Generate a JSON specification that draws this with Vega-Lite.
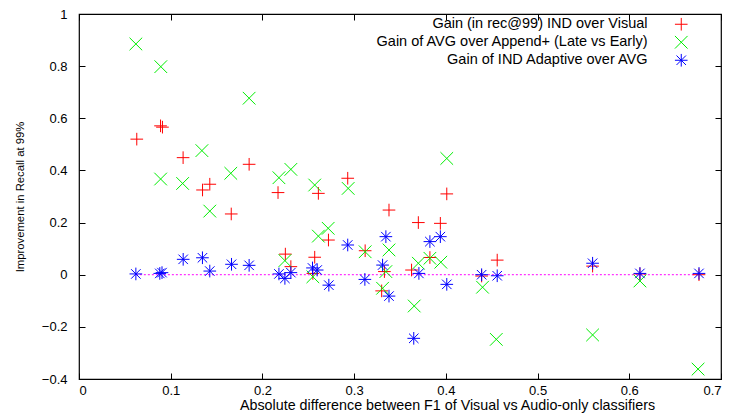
{
  "$schema": "https://vega.github.io/schema/vega-lite/v6.json",
  "width": 642,
  "height": 365,
  "autosize": {"type": "none"},
  "padding": {"left": 79, "top": 14, "right": 12, "bottom": 34},
  "background": "white",
  "config": {
    "view": {"stroke": "#000", "strokeWidth": 1.2},
    "font": "Liberation Sans",
    "axis": {"grid": false, "domain": false, "tickColor": "#000", "tickSize": -6, "labelFontSize": 13, "labelColor": "#000", "titleColor": "#000", "labelFont": "Liberation Sans", "titleFont": "Liberation Sans", "titleFontWeight": "normal"}
  },
  "datasets": {
    "pts": [
      {"x": 0.063, "y": 0.52, "s": "Gain (in rec@99) IND over Visual"},
      {"x": 0.0889, "y": 0.571, "s": "Gain (in rec@99) IND over Visual"},
      {"x": 0.091, "y": 0.566, "s": "Gain (in rec@99) IND over Visual"},
      {"x": 0.1135, "y": 0.449, "s": "Gain (in rec@99) IND over Visual"},
      {"x": 0.1347, "y": 0.325, "s": "Gain (in rec@99) IND over Visual"},
      {"x": 0.1426, "y": 0.347, "s": "Gain (in rec@99) IND over Visual"},
      {"x": 0.166, "y": 0.233, "s": "Gain (in rec@99) IND over Visual"},
      {"x": 0.1855, "y": 0.4235, "s": "Gain (in rec@99) IND over Visual"},
      {"x": 0.217, "y": 0.315, "s": "Gain (in rec@99) IND over Visual"},
      {"x": 0.225, "y": 0.079, "s": "Gain (in rec@99) IND over Visual"},
      {"x": 0.231, "y": 0.031, "s": "Gain (in rec@99) IND over Visual"},
      {"x": 0.255, "y": 0.005, "s": "Gain (in rec@99) IND over Visual"},
      {"x": 0.257, "y": 0.067, "s": "Gain (in rec@99) IND over Visual"},
      {"x": 0.261, "y": 0.312, "s": "Gain (in rec@99) IND over Visual"},
      {"x": 0.272, "y": 0.133, "s": "Gain (in rec@99) IND over Visual"},
      {"x": 0.293, "y": 0.37, "s": "Gain (in rec@99) IND over Visual"},
      {"x": 0.312, "y": 0.092, "s": "Gain (in rec@99) IND over Visual"},
      {"x": 0.33, "y": -0.062, "s": "Gain (in rec@99) IND over Visual"},
      {"x": 0.333, "y": 0.012, "s": "Gain (in rec@99) IND over Visual"},
      {"x": 0.338, "y": 0.248, "s": "Gain (in rec@99) IND over Visual"},
      {"x": 0.3626, "y": 0.018, "s": "Gain (in rec@99) IND over Visual"},
      {"x": 0.37, "y": 0.2, "s": "Gain (in rec@99) IND over Visual"},
      {"x": 0.3826, "y": 0.066, "s": "Gain (in rec@99) IND over Visual"},
      {"x": 0.394, "y": 0.197, "s": "Gain (in rec@99) IND over Visual"},
      {"x": 0.401, "y": 0.31, "s": "Gain (in rec@99) IND over Visual"},
      {"x": 0.439, "y": -0.005, "s": "Gain (in rec@99) IND over Visual"},
      {"x": 0.456, "y": 0.056, "s": "Gain (in rec@99) IND over Visual"},
      {"x": 0.56, "y": 0.033, "s": "Gain (in rec@99) IND over Visual"},
      {"x": 0.6116, "y": 0.003, "s": "Gain (in rec@99) IND over Visual"},
      {"x": 0.676, "y": 0.0, "s": "Gain (in rec@99) IND over Visual"},

      {"x": 0.062, "y": 0.885, "s": "Gain of AVG over Append+ (Late vs Early)"},
      {"x": 0.0892, "y": 0.798, "s": "Gain of AVG over Append+ (Late vs Early)"},
      {"x": 0.089, "y": 0.367, "s": "Gain of AVG over Append+ (Late vs Early)"},
      {"x": 0.113, "y": 0.35, "s": "Gain of AVG over Append+ (Late vs Early)"},
      {"x": 0.134, "y": 0.476, "s": "Gain of AVG over Append+ (Late vs Early)"},
      {"x": 0.1426, "y": 0.244, "s": "Gain of AVG over Append+ (Late vs Early)"},
      {"x": 0.1655, "y": 0.389, "s": "Gain of AVG over Append+ (Late vs Early)"},
      {"x": 0.1855, "y": 0.677, "s": "Gain of AVG over Append+ (Late vs Early)"},
      {"x": 0.218, "y": 0.372, "s": "Gain of AVG over Append+ (Late vs Early)"},
      {"x": 0.2245, "y": 0.054, "s": "Gain of AVG over Append+ (Late vs Early)"},
      {"x": 0.231, "y": 0.404, "s": "Gain of AVG over Append+ (Late vs Early)"},
      {"x": 0.255, "y": -0.008, "s": "Gain of AVG over Append+ (Late vs Early)"},
      {"x": 0.257, "y": 0.344, "s": "Gain of AVG over Append+ (Late vs Early)"},
      {"x": 0.261, "y": 0.148, "s": "Gain of AVG over Append+ (Late vs Early)"},
      {"x": 0.2717, "y": 0.178, "s": "Gain of AVG over Append+ (Late vs Early)"},
      {"x": 0.2935, "y": 0.331, "s": "Gain of AVG over Append+ (Late vs Early)"},
      {"x": 0.312, "y": 0.088, "s": "Gain of AVG over Append+ (Late vs Early)"},
      {"x": 0.331, "y": -0.052, "s": "Gain of AVG over Append+ (Late vs Early)"},
      {"x": 0.3346, "y": 0.012, "s": "Gain of AVG over Append+ (Late vs Early)"},
      {"x": 0.338, "y": 0.095, "s": "Gain of AVG over Append+ (Late vs Early)"},
      {"x": 0.3655, "y": -0.12, "s": "Gain of AVG over Append+ (Late vs Early)"},
      {"x": 0.37, "y": 0.044, "s": "Gain of AVG over Append+ (Late vs Early)"},
      {"x": 0.3826, "y": 0.063, "s": "Gain of AVG over Append+ (Late vs Early)"},
      {"x": 0.3945, "y": 0.048, "s": "Gain of AVG over Append+ (Late vs Early)"},
      {"x": 0.401, "y": 0.446, "s": "Gain of AVG over Append+ (Late vs Early)"},
      {"x": 0.44, "y": -0.048, "s": "Gain of AVG over Append+ (Late vs Early)"},
      {"x": 0.455, "y": -0.248, "s": "Gain of AVG over Append+ (Late vs Early)"},
      {"x": 0.56, "y": -0.231, "s": "Gain of AVG over Append+ (Late vs Early)"},
      {"x": 0.6116, "y": -0.024, "s": "Gain of AVG over Append+ (Late vs Early)"},
      {"x": 0.675, "y": -0.362, "s": "Gain of AVG over Append+ (Late vs Early)"},

      {"x": 0.062, "y": 0.003, "s": "Gain of IND Adaptive over AVG"},
      {"x": 0.0881, "y": 0.005, "s": "Gain of IND Adaptive over AVG"},
      {"x": 0.0905, "y": 0.008, "s": "Gain of IND Adaptive over AVG"},
      {"x": 0.1136, "y": 0.059, "s": "Gain of IND Adaptive over AVG"},
      {"x": 0.1346, "y": 0.065, "s": "Gain of IND Adaptive over AVG"},
      {"x": 0.1426, "y": 0.014, "s": "Gain of IND Adaptive over AVG"},
      {"x": 0.1663, "y": 0.04, "s": "Gain of IND Adaptive over AVG"},
      {"x": 0.1855, "y": 0.036, "s": "Gain of IND Adaptive over AVG"},
      {"x": 0.218, "y": 0.003, "s": "Gain of IND Adaptive over AVG"},
      {"x": 0.2245, "y": -0.014, "s": "Gain of IND Adaptive over AVG"},
      {"x": 0.231, "y": 0.008, "s": "Gain of IND Adaptive over AVG"},
      {"x": 0.2546, "y": 0.026, "s": "Gain of IND Adaptive over AVG"},
      {"x": 0.2597, "y": 0.018, "s": "Gain of IND Adaptive over AVG"},
      {"x": 0.2724, "y": -0.04, "s": "Gain of IND Adaptive over AVG"},
      {"x": 0.293, "y": 0.114, "s": "Gain of IND Adaptive over AVG"},
      {"x": 0.3117, "y": -0.018, "s": "Gain of IND Adaptive over AVG"},
      {"x": 0.331, "y": 0.037, "s": "Gain of IND Adaptive over AVG"},
      {"x": 0.3346, "y": 0.146, "s": "Gain of IND Adaptive over AVG"},
      {"x": 0.338, "y": -0.082, "s": "Gain of IND Adaptive over AVG"},
      {"x": 0.365, "y": -0.244, "s": "Gain of IND Adaptive over AVG"},
      {"x": 0.3706, "y": 0.005, "s": "Gain of IND Adaptive over AVG"},
      {"x": 0.3826, "y": 0.127, "s": "Gain of IND Adaptive over AVG"},
      {"x": 0.394, "y": 0.146, "s": "Gain of IND Adaptive over AVG"},
      {"x": 0.401, "y": -0.037, "s": "Gain of IND Adaptive over AVG"},
      {"x": 0.439, "y": 0.0, "s": "Gain of IND Adaptive over AVG"},
      {"x": 0.456, "y": -0.004, "s": "Gain of IND Adaptive over AVG"},
      {"x": 0.56, "y": 0.044, "s": "Gain of IND Adaptive over AVG"},
      {"x": 0.6116, "y": 0.005, "s": "Gain of IND Adaptive over AVG"},
      {"x": 0.676, "y": 0.005, "s": "Gain of IND Adaptive over AVG"}
    ],
    "base": [
      {"x": 0.062, "y": 0},
      {"x": 0.676, "y": 0}
    ]
  },
  "layer": [
    {
      "data": {"name": "base"},
      "mark": {"type": "line", "color": "#ff00ff", "strokeWidth": 1, "strokeDash": [2, 2]},
      "encoding": {
        "x": {"field": "x", "type": "quantitative", "scale": {"domain": [0, 0.7], "nice": false, "zero": false},
              "axis": {"orient": "top", "labels": false, "title": null, "values": [0,0.1,0.2,0.3,0.4,0.5,0.6,0.7]}},
        "y": {"field": "y", "type": "quantitative", "scale": {"domain": [-0.4, 1], "nice": false, "zero": false},
              "axis": {"orient": "right", "labels": false, "title": null, "values": [-0.4,-0.2,0,0.2,0.4,0.6,0.8,1]}}
      }
    },
    {
      "data": {"name": "pts"},
      "mark": {"type": "point", "filled": false, "strokeWidth": 1, "size": 160, "opacity": 1},
      "encoding": {
        "x": {"field": "x", "type": "quantitative",
              "axis": {"orient": "bottom", "title": "Absolute difference between F1 of Visual vs Audio-only classifiers", "format": "~g", "values": [0,0.1,0.2,0.3,0.4,0.5,0.6,0.7], "labelPadding": 11, "titleFontSize": 14.3, "titlePadding": 1, "titleX": 368, "titleAnchor": null, "titleAlign": "center"}},
        "y": {"field": "y", "type": "quantitative",
              "axis": {"orient": "left", "title": "Improvement in Recall at 99%", "format": "~g", "values": [-0.4,-0.2,0,0.2,0.4,0.6,0.8,1], "labelPadding": 18, "titleFontSize": 11.3, "titlePadding": 16}},
        "color": {"field": "s", "type": "nominal",
                  "scale": {"domain": ["Gain (in rec@99) IND over Visual", "Gain of AVG over Append+ (Late vs Early)", "Gain of IND Adaptive over AVG"], "range": ["#ff0000", "#00ee00", "#0000ff"]},
                  "legend": {"title": null, "orient": "none", "legendX": 595, "legendY": 3, "labelAlign": "right", "labelOffset": -41, "labelLimit": 500, "labelFontSize": 14.5, "labelFont": "Liberation Sans", "symbolSize": 160, "symbolStrokeWidth": 1, "rowPadding": 0, "padding": 0, "labelColor": "#000"}},
        "shape": {"field": "s", "type": "nominal",
                  "scale": {"domain": ["Gain (in rec@99) IND over Visual", "Gain of AVG over Append+ (Late vs Early)", "Gain of IND Adaptive over AVG"], "range": ["M-1,0L1,0M0,-1L0,1", "M-1,-1L1,1M-1,1L1,-1", "M-1,0L1,0M0,-1L0,1M-0.75,-0.75L0.75,0.75M-0.75,0.75L0.75,-0.75"]},
                  "legend": null}
      }
    }
  ],
  "resolve": {"axis": {"x": "independent", "y": "independent"}}
}
